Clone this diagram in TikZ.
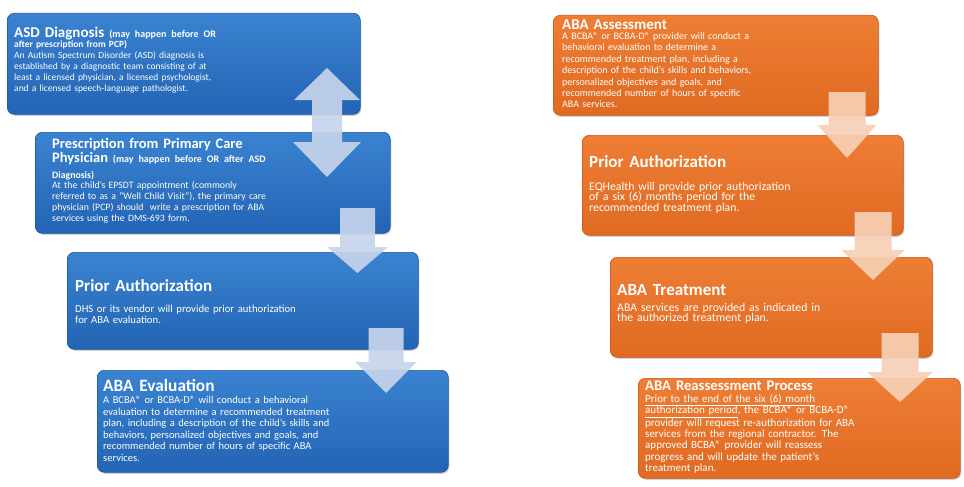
\documentclass[tikz,border=0pt]{standalone}
\usepackage{fontspec}
\setmainfont{Carlito}
\usetikzlibrary{shadows}
\definecolor{blueA}{HTML}{3A83D0}
\definecolor{blueB}{HTML}{2364B4}
\definecolor{blueE}{HTML}{1B58A0}
\definecolor{orA}{HTML}{EE7E35}
\definecolor{orB}{HTML}{E06A22}
\definecolor{orE}{HTML}{C9561A}
\definecolor{blueArrow}{HTML}{C6D4EB}
\definecolor{orArrow}{HTML}{F7D0B6}
\tikzset{
  box/.style={rectangle, rounded corners=7pt, anchor=north west, inner sep=0pt, line width=0.6pt,
    drop shadow={opacity=0.35, shadow xshift=1pt, shadow yshift=-1.5pt}},
  bluebox/.style={box, top color=blueA, bottom color=blueB, draw=blueE},
  orbox/.style={box, top color=orA, bottom color=orB, draw=orE},
  txt/.style={anchor=base west, inner sep=0pt, text=white, align=left, text width=320pt},
  ttl/.style={txt, font=\fontsize{17}{17}\selectfont\bfseries},
}
\newcommand\fs[2]{\fontsize{#1}{#2}\selectfont}
\newcommand\dnarrow[7]{%
  % #1 colour, #2 centre x, #3 shaft half, #4 head half, #5 shaft top, #6 head base, #7 tip
  \fill[#1] ({#2-#3},#5) -- ({#2+#3},#5) -- ({#2+#3},#6) -- ({#2+#4},#6) -- (#2,#7)
     -- ({#2-#4},#6) -- ({#2-#3},#6) -- cycle;}
\begin{document}
\begin{tikzpicture}[x=1pt,y=-1pt]
\useasboundingbox (0,0) rectangle (964,487);
\fill[white] (0,0) rectangle (964,487);
% boxes
\node[bluebox, minimum width=353pt, minimum height=101pt] (b1) at (7,13) {};
\node[bluebox, minimum width=355pt, minimum height=101pt] (b2) at (35,132) {};
\node[bluebox, minimum width=351pt, minimum height=97pt] (b3) at (67,252) {};
\node[bluebox, minimum width=351pt, minimum height=102pt] (b4) at (97,370) {};
\node[orbox, minimum width=325pt, minimum height=100pt] (o1) at (553,15) {};
\node[orbox, minimum width=321pt, minimum height=100pt] (o2) at (582,135) {};
\node[orbox, minimum width=322pt, minimum height=100pt] (o3) at (610,257) {};
\node[orbox, minimum width=322pt, minimum height=100pt] (o4) at (638,378) {};
% arrows
\fill[blueArrow, opacity=0.92] (327,68) -- (360,100) -- (342,100) -- (342,142) -- (361,142) -- (327,177)
   -- (293,142) -- (312,142) -- (312,100) -- (294,100) -- cycle;
\begin{scope}[opacity=0.92]
\dnarrow{blueArrow}{357.5}{17.5}{30.5}{208}{247}{273}
\dnarrow{blueArrow}{386}{17.5}{30.5}{328}{362}{393}
\dnarrow{orArrow}{847}{18.5}{29.5}{92}{125}{158}
\dnarrow{orArrow}{873}{18.5}{31.5}{212}{250}{280}
\dnarrow{orArrow}{900}{18.5}{33}{333}{372}{402}
\end{scope}
% texts
\node[ttl, font=\fs{15}{15}\bfseries] (t1) at (14,38) {ASD Diagnosis {\fs{10}{11}(may happen before OR}};
\node[txt, font=\fs{9.5}{11}] (t1b) at (14,47.5) {\textbf{after prescription from PCP)}\\
An Autism Spectrum Disorder (ASD) diagnosis is\\
established by a diagnostic team consisting of at\\
least a licensed physician, a licensed psychologist,\\
and a licensed speech-language pathologist.};
\node[ttl, font=\fs{14.5}{14.5}\bfseries] (t2) at (52,148) {Prescription from Primary Care\\
Physician {\fs{10}{11}(may happen before OR after ASD}};
\node[txt, font=\fs{9.8}{10.8}] (t2b) at (52,178) {\textbf{Diagnosis)}\\
At the child's EPSDT appointment (commonly\\
referred to as a ``Well Child Visit''), the primary care\\
physician (PCP) should\ \ write a prescription for ABA\\
services using the DMS-693 form.};
\node[ttl] (t3) at (75,291) {Prior Authorization};
\node[txt, font=\fs{10.7}{11.5}] (t3b) at (75,312) {DHS or its vendor will provide prior authorization\\
for ABA evaluation.};
\node[ttl, font=\fs{17.3}{17}\bfseries] (t4) at (103,391) {ABA Evaluation};
\node[txt, font=\fs{10.5}{11.5}] (t4b) at (103,403.5) {A BCBA® or BCBA-D® will conduct a behavioral\\
evaluation to determine a recommended treatment\\
plan, including a description of the child's skills and\\
behaviors, personalized objectives and goals, and\\
recommended number of hours of specific ABA\\
services.};
\node[ttl, font=\fs{15}{15}\bfseries] (t5) at (562,30) {ABA Assessment};
\node[txt, font=\fs{10}{11.4}] (t5b) at (562,39.5) {A BCBA® or BCBA-D® provider will conduct a\\
behavioral evaluation to determine a\\
recommended treatment plan, including a\\
description of the child's skills and behaviors,\\
personalized objectives and goals, and\\
recommended number of hours of specific\\
ABA services.};
\node[ttl] (t6) at (589,167) {Prior Authorization};
\node[txt, font=\fs{11.8}{10.9}] (t6b) at (589,190) {EQHealth will provide prior authorization\\
of a six (6) months period for the\\
recommended treatment plan.};
\node[ttl] (t7) at (617,295) {ABA Treatment};
\node[txt, font=\fs{11.8}{10.6}] (t7b) at (617,311) {ABA services are provided as indicated in\\
the authorized treatment plan.};
\node[ttl, font=\fs{14.7}{15}\bfseries] (t8) at (645,390) {ABA Reassessment Process};
\node[txt, font=\fs{11}{11.3}] (t8b) at (645,402.5) {\underline{Prior to the end of the six (6) month}\\
\underline{authorization period}, the BCBA® or BCBA-D®\\
provider will request re-authorization for ABA\\
services from the regional contractor. The\\
approved BCBA® provider will reassess\\
progress and will update the patient's\\
treatment plan.};
\end{tikzpicture}
\end{document}
